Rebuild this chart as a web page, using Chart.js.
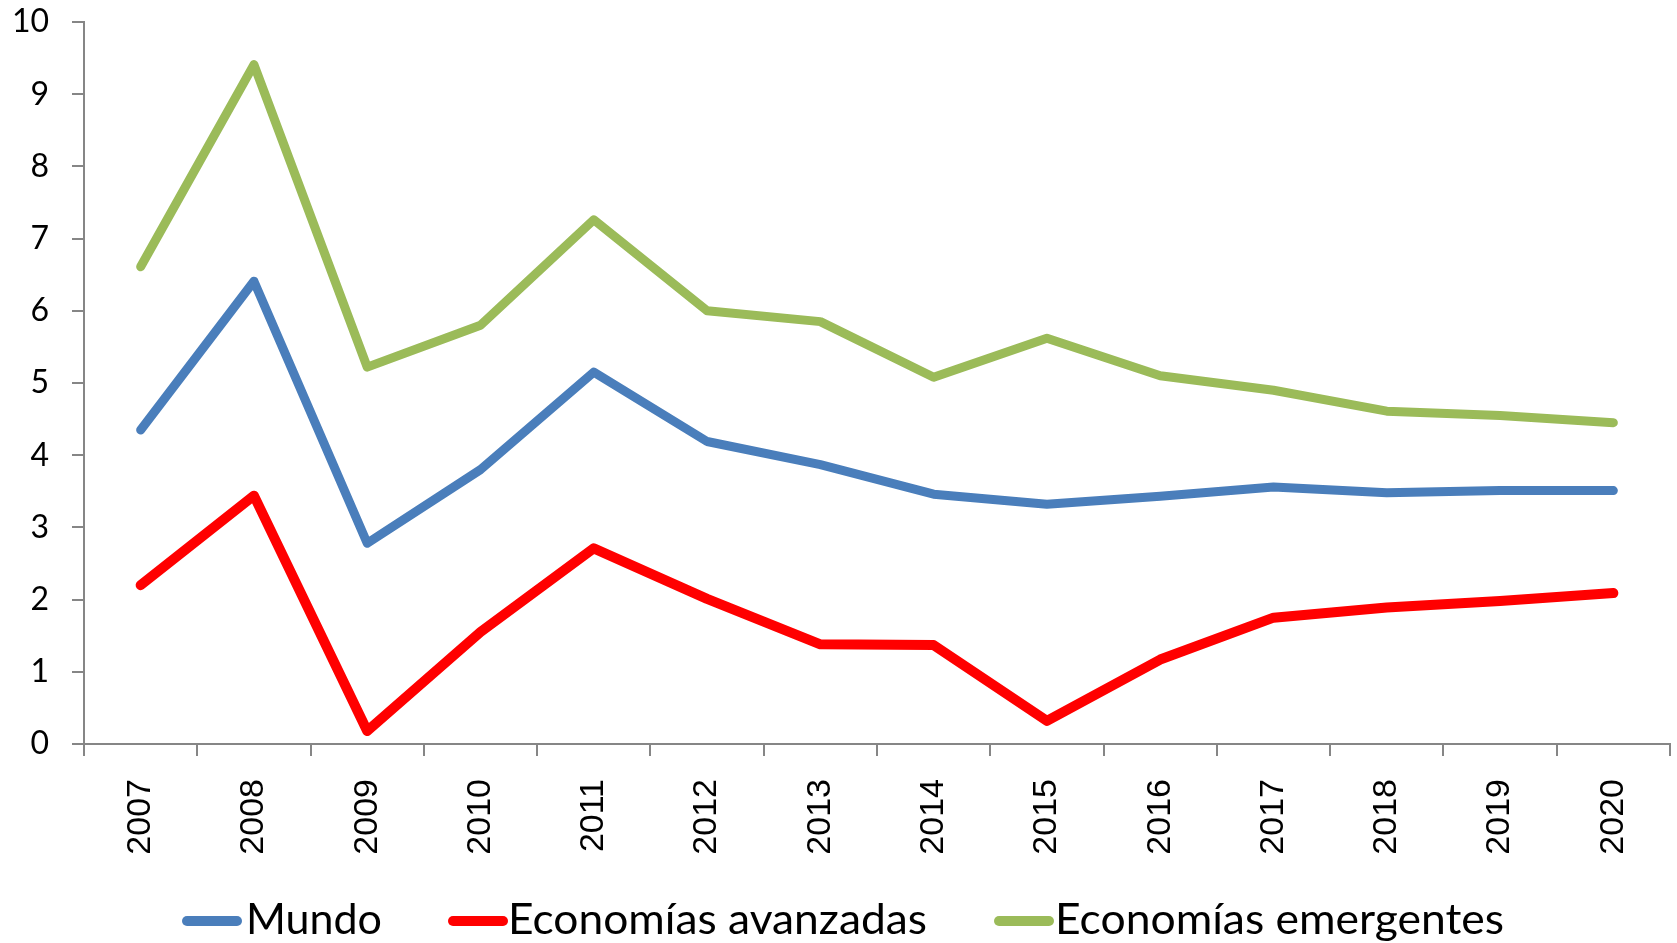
<!DOCTYPE html>
<html>
<head>
<meta charset="utf-8">
<script src="https://cdn.jsdelivr.net/npm/chart.js@4.4.1/dist/chart.umd.min.js"></script>
<style>
  html, body { margin: 0; padding: 0; background: #ffffff; }
  #wrap { position: relative; width: 1677px; height: 943px; overflow: hidden; }
  #c { position: absolute; left: 0; top: 0; }
  .mk { position: absolute; height: 10px; width: 60px; border-radius: 5px; top: 916px; }
  .lt { position: absolute; font-family: Lato, "Open Sans", sans-serif; font-size: 42px; line-height: 50.4px; top: 893px; color: #000; white-space: nowrap; transform-origin: 0 0; }
</style>
</head>
<body>
<div id="wrap">
  <canvas id="c" width="1677" height="943"></canvas>
  <div class="mk" style="left:182px;background:#4A7EBB"></div>
  <span class="lt" id="l1" style="left:246px">Mundo</span>
  <div class="mk" style="left:448px;background:#FF0000"></div>
  <span class="lt" id="l2" style="left:508px">Economías avanzadas</span>
  <div class="mk" style="left:994px;background:#9BBB59"></div>
  <span class="lt" id="l3" style="left:1055px">Economías emergentes</span>
</div>
<script>
const years = ["2007","2008","2009","2010","2011","2012","2013","2014","2015","2016","2017","2018","2019","2020"];
const mundo = [4.35, 6.41, 2.78, 3.80, 5.15, 4.19, 3.87, 3.46, 3.32, 3.43, 3.56, 3.48, 3.51, 3.51];
const avanzadas = [2.20, 3.44, 0.18, 1.55, 2.71, 2.01, 1.38, 1.37, 0.32, 1.17, 1.75, 1.89, 1.98, 2.09];
const emergentes = [6.61, 9.41, 5.22, 5.80, 7.26, 6.00, 5.85, 5.08, 5.62, 5.10, 4.90, 4.61, 4.55, 4.45];
const seriesNames = ["Mundo", "Economías avanzadas", "Economías emergentes"];
const yTicks = [0,1,2,3,4,5,6,7,8,9,10];

const axisColor = "#868686";
function ds(label, data, color, w) {
  return { label, data, borderColor: color, backgroundColor: color, borderWidth: w,
    borderJoinStyle: "round", borderCapStyle: "round", pointRadius: 0, pointHoverRadius: 0, tension: 0, fill: false };
}
new Chart(document.getElementById("c"), {
  type: "line",
  data: {
    labels: years,
    datasets: [
      ds(seriesNames[0], mundo, "#4A7EBB", 9),
      ds(seriesNames[1], avanzadas, "#FF0000", 10),
      ds(seriesNames[2], emergentes, "#9BBB59", 9)
    ]
  },
  options: {
    responsive: false,
    animation: false,
    devicePixelRatio: 1,
    layout: { padding: { top: 22, right: 7, left: 0, bottom: 0 } },
    plugins: { legend: { display: false }, tooltip: { enabled: false } },
    scales: {
      x: {
        type: "category",
        offset: true,
        grid: { offset: true, drawOnChartArea: false, drawTicks: true, tickLength: 12, color: axisColor, lineWidth: 2 },
        border: { display: true, color: axisColor, width: 2 },
        ticks: { minRotation: 90, maxRotation: 90, autoSkip: false, padding: 23, color: "#000",
          font: { family: "'Liberation Sans', Arial, sans-serif", size: 34 } },
        afterFit: (s) => { s.height = 199; s.paddingLeft = 0; s.paddingRight = 0; }
      },
      y: {
        min: 0, max: 10,
        afterBuildTicks: (s) => { s.ticks = yTicks.map(v => ({ value: v })); },
        grid: { drawOnChartArea: false, drawTicks: true, tickLength: 12, color: axisColor, lineWidth: 2 },
        border: { display: true, color: axisColor, width: 2 },
        ticks: { padding: 23, color: "#000", font: { family: "Lato, 'Open Sans', sans-serif", size: 32 },
          callback: (v) => String(v) },
        afterFit: (s) => { s.width = 84; s.paddingTop = 0; s.paddingBottom = 0; }
      }
    }
  }
});
const targets = { l1: 136, l2: 419, l3: 449 };
for (const id in targets) {
  const el = document.getElementById(id);
  const w = el.getBoundingClientRect().width;
  if (w > 0) el.style.transform = "scaleX(" + (targets[id] / w).toFixed(4) + ")";
}
</script>
</body>
</html>
